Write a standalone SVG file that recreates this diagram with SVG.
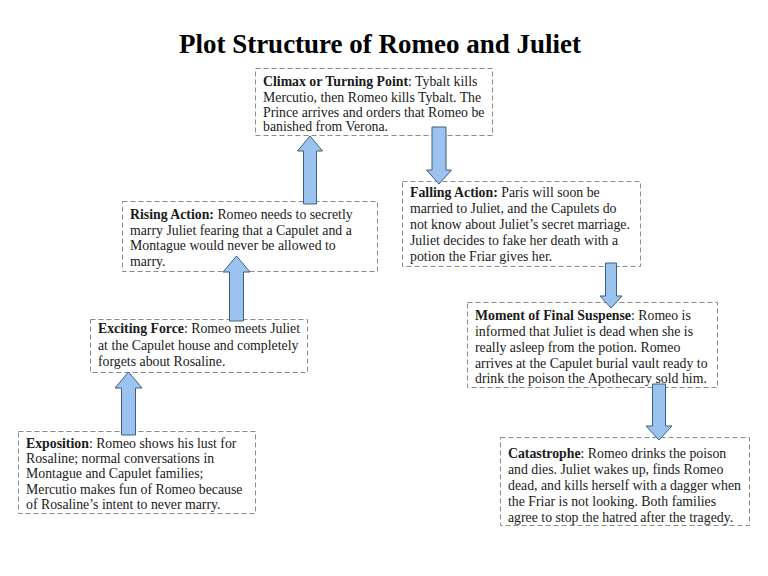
<svg xmlns="http://www.w3.org/2000/svg" width="768" height="576" viewBox="0 0 768 576">
<style>
.box{fill:#fff;stroke:#8a8a8a;stroke-width:1;stroke-dasharray:5,3}
.t{font-family:"Liberation Serif","Times New Roman",serif;font-size:13.8px;fill:#1a1a1a}
.b{font-weight:bold}
.title{font-family:"Liberation Serif","Times New Roman",serif;font-size:27px;font-weight:bold;fill:#000}
.arr{fill:#9cc3ef;stroke:#3f5f80;stroke-width:1}
</style>
<rect width="768" height="576" fill="#fff"/>
<text class="title" x="380" y="53" text-anchor="middle">Plot Structure of Romeo and Juliet</text>

<g id="climax">
<rect class="box" x="255.5" y="68.5" width="237" height="67"/>
<text class="t" x="263"><tspan x="263" y="86"><tspan class="b">Climax or Turning Point</tspan>: Tybalt kills</tspan><tspan x="263" y="101.5">Mercutio, then Romeo kills Tybalt. The</tspan><tspan x="263" y="117">Prince arrives and orders that Romeo be</tspan><tspan x="263" y="131">banished from Verona.</tspan></text>
</g>

<g id="rising">
<rect class="box" x="122.5" y="201.5" width="255" height="70"/>
<text class="t"><tspan x="130" y="218.5"><tspan class="b">Rising Action:</tspan> Romeo needs to secretly</tspan><tspan x="130" y="234.5">marry Juliet fearing that a Capulet and a</tspan><tspan x="130" y="250">Montague would never be allowed to</tspan><tspan x="130" y="265.5">marry.</tspan></text>
</g>

<g id="falling">
<rect class="box" x="402.5" y="181.5" width="238" height="85"/>
<text class="t"><tspan x="410" y="196.5"><tspan class="b">Falling Action:</tspan> Paris will soon be</tspan><tspan x="410" y="212.5">married to Juliet, and the Capulets do</tspan><tspan x="410" y="228.5">not know about Juliet’s secret marriage.</tspan><tspan x="410" y="244.5">Juliet decides to fake her death with a</tspan><tspan x="410" y="260.5">potion the Friar gives her.</tspan></text>
</g>

<g id="exciting">
<rect class="box" x="90.5" y="319.5" width="217" height="53"/>
<text class="t"><tspan x="98" y="333"><tspan class="b">Exciting Force</tspan>: Romeo meets Juliet</tspan><tspan x="98" y="349.5">at the Capulet house and completely</tspan><tspan x="98" y="365.5">forgets about Rosaline.</tspan></text>
</g>

<g id="moment">
<rect class="box" x="467.5" y="302.5" width="250" height="85"/>
<text class="t"><tspan x="475" y="319.5"><tspan class="b">Moment of Final Suspense</tspan>: Romeo is</tspan><tspan x="475" y="335.5">informed that Juliet is dead when she is</tspan><tspan x="475" y="351.5">really asleep from the potion. Romeo</tspan><tspan x="475" y="367.5">arrives at the Capulet burial vault ready to</tspan><tspan x="475" y="383">drink the poison the Apothecary sold him.</tspan></text>
</g>

<g id="exposition">
<rect class="box" x="18.5" y="431.5" width="237" height="82"/>
<text class="t"><tspan x="26" y="447.5"><tspan class="b">Exposition</tspan>: Romeo shows his lust for</tspan><tspan x="26" y="462.5">Rosaline; normal conversations in</tspan><tspan x="26" y="477.5">Montague and Capulet families;</tspan><tspan x="26" y="493.5">Mercutio makes fun of Romeo because</tspan><tspan x="26" y="509">of Rosaline’s intent to never marry.</tspan></text>
</g>

<g id="catastrophe">
<rect class="box" x="500.5" y="437.5" width="249" height="88"/>
<text class="t"><tspan x="508" y="457.5"><tspan class="b">Catastrophe</tspan>: Romeo drinks the poison</tspan><tspan x="508" y="473.5">and dies. Juliet wakes up, finds Romeo</tspan><tspan x="508" y="489.5">dead, and kills herself with a dagger when</tspan><tspan x="508" y="505.5">the Friar is not looking. Both families</tspan><tspan x="508" y="521.5">agree to stop the hatred after the tragedy.</tspan></text>
</g>

<g id="connectors">
<path class="arr" d="M128.5,372 L142,388 L135.5,388 L135.5,435 L121.5,435 L121.5,388 L115,388 Z"/>
<path class="arr" d="M236.5,256 L250,272 L243.5,272 L243.5,321 L229.5,321 L229.5,272 L223,272 Z"/>
<path class="arr" d="M310,136 L322.5,151 L316.5,151 L316.5,204 L303.5,204 L303.5,151 L297.5,151 Z"/>
<path class="arr" d="M439,184 L451.5,170 L446,170 L446,127 L432,127 L432,170 L426.5,170 Z"/>
<path class="arr" d="M611,308 L622,296 L616.5,296 L616.5,263 L605.5,263 L605.5,296 L600,296 Z"/>
<path class="arr" d="M659,440 L672,426 L665.5,426 L665.5,384 L652.5,384 L652.5,426 L646,426 Z"/>
</g>
</svg>
